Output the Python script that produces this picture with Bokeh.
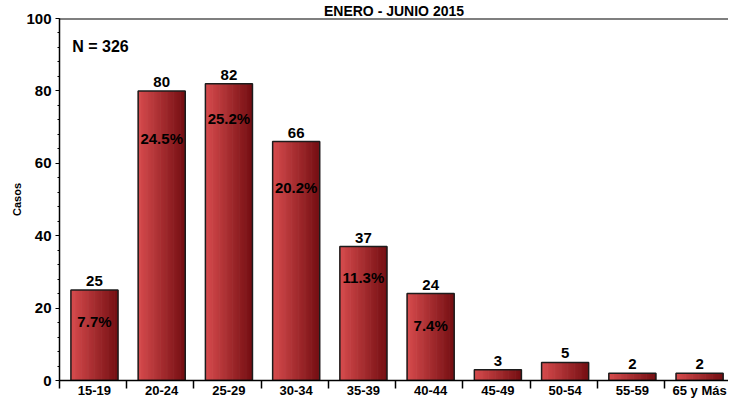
import numpy as np
from bokeh.plotting import figure
from bokeh.models import Range1d, FixedTicker, Label, Span
from bokeh.embed import file_html
from bokeh.resources import INLINE
from bokeh.core.properties import value

# ---- data ----
categories = ["15-19", "20-24", "25-29", "30-34", "35-39", "40-44",
              "45-49", "50-54", "55-59", "65 y Más"]
casos = [25, 80, 82, 66, 37, 24, 3, 5, 2, 2]
porcentajes = ["7.7%", "24.5%", "25.2%", "20.2%", "11.3%", "7.4%"]
pct_label_y = [16.2, 66.8, 72.3, 53.4, 28.5, 15.2]
total_n = 326
title_text = "ENERO - JUNIO 2015"
y_label = "Casos"
y_ticks = [0, 20, 40, 60, 80, 100]
y_minor = list(range(0, 101, 4))

FONT = "Liberation Sans"
n = len(categories)
xs = [i + 0.52 for i in range(n)]
bw = 0.70

p = figure(width=728, height=400, output_backend="svg", toolbar_location=None,
           x_range=Range1d(0, 9.95), y_range=Range1d(0, 100),
           min_border_left=59, min_border_right=0, min_border_top=15,
           min_border_bottom=0, title=title_text)
p.outline_line_color = None
p.grid.visible = False
p.background_fill_color = "white"
p.border_fill_color = "white"

p.title.align = "center"
p.title.text_font = FONT
p.title.text_font_style = "bold"
p.title.text_font_size = "14px"
p.title.text_color = "black"
p.title.standoff = 0
p.title.offset = 0

# ---- gradient bars (vertical strips) ----
K = 40
c_left = np.array([216, 76, 78])
c_right = np.array([116, 14, 18])
sx, stop, scol = [], [], []
for xc, v in zip(xs, casos):
    for k in range(K):
        t = (k + 0.5) / K
        col = c_left + (c_right - c_left) * t
        sx.append(xc - bw / 2 + (k + 0.5) * bw / K)
        stop.append(v)
        scol.append("#%02x%02x%02x" % tuple(int(round(c)) for c in col))
p.vbar(x=sx, top=stop, width=bw / K * 1.6, fill_color=scol, line_color=None)
p.vbar(x=xs, top=casos, width=bw, fill_color=None, line_color="#1c1c1c",
       line_width=1.5)

# ---- value labels ----
p.text(x=xs, y=casos, text=[str(v) for v in casos], y_offset=-4,
       text_font=value(FONT), text_font_style="bold", text_font_size="15px",
       text_align="center", text_baseline="bottom", text_color="black")

# ---- percentage labels ----
p.text(x=xs[:len(porcentajes)], y=pct_label_y, text=porcentajes,
       text_font=value(FONT), text_font_style="bold", text_font_size="15px",
       text_align="center", text_baseline="middle", text_color="black")

# ---- N label ----
p.add_layout(Label(x=0.19, y=92.3, text="N = %d" % total_n,
                   text_font=FONT, text_font_style="bold", text_font_size="16px",
                   text_baseline="middle", text_align="left", text_color="black"))

# ---- top frame line ----
p.add_layout(Span(location=100, dimension="width", line_color="black",
                  line_width=2))

# ---- axes ----
ya = p.yaxis[0]
ya.ticker = FixedTicker(ticks=y_ticks, minor_ticks=y_minor)
ya.major_tick_out = 4
ya.major_tick_in = 0
ya.minor_tick_out = 2
ya.minor_tick_in = 0
ya.major_label_standoff = 4
ya.major_label_text_font = FONT
ya.major_label_text_font_style = "bold"
ya.major_label_text_font_size = "15px"
ya.major_label_text_color = "black"
ya.axis_label = y_label
ya.axis_label_text_font = FONT
ya.axis_label_text_font_style = "bold"
ya.axis_label_text_font_size = "11px"
ya.axis_label_text_color = "black"
ya.axis_label_standoff = 0
ya.axis_line_width = 1.5
ya.axis_line_color = "black"

xa = p.xaxis[0]
xa.ticker = FixedTicker(ticks=xs, minor_ticks=list(range(0, n)))
xa.major_label_overrides = {x: c for x, c in zip(xs, categories)}
xa.major_tick_out = 0
xa.major_tick_in = 0
xa.minor_tick_out = 8
xa.minor_tick_in = 0
xa.minor_tick_line_width = 1.5
xa.major_label_standoff = -6
xa.major_label_text_font = FONT
xa.major_label_text_font_style = "bold"
xa.major_label_text_font_size = "13px"
xa.major_label_text_color = "black"
xa.axis_line_width = 1.5
xa.axis_line_color = "black"

open("out.html", "w").write(file_html(p, INLINE))
